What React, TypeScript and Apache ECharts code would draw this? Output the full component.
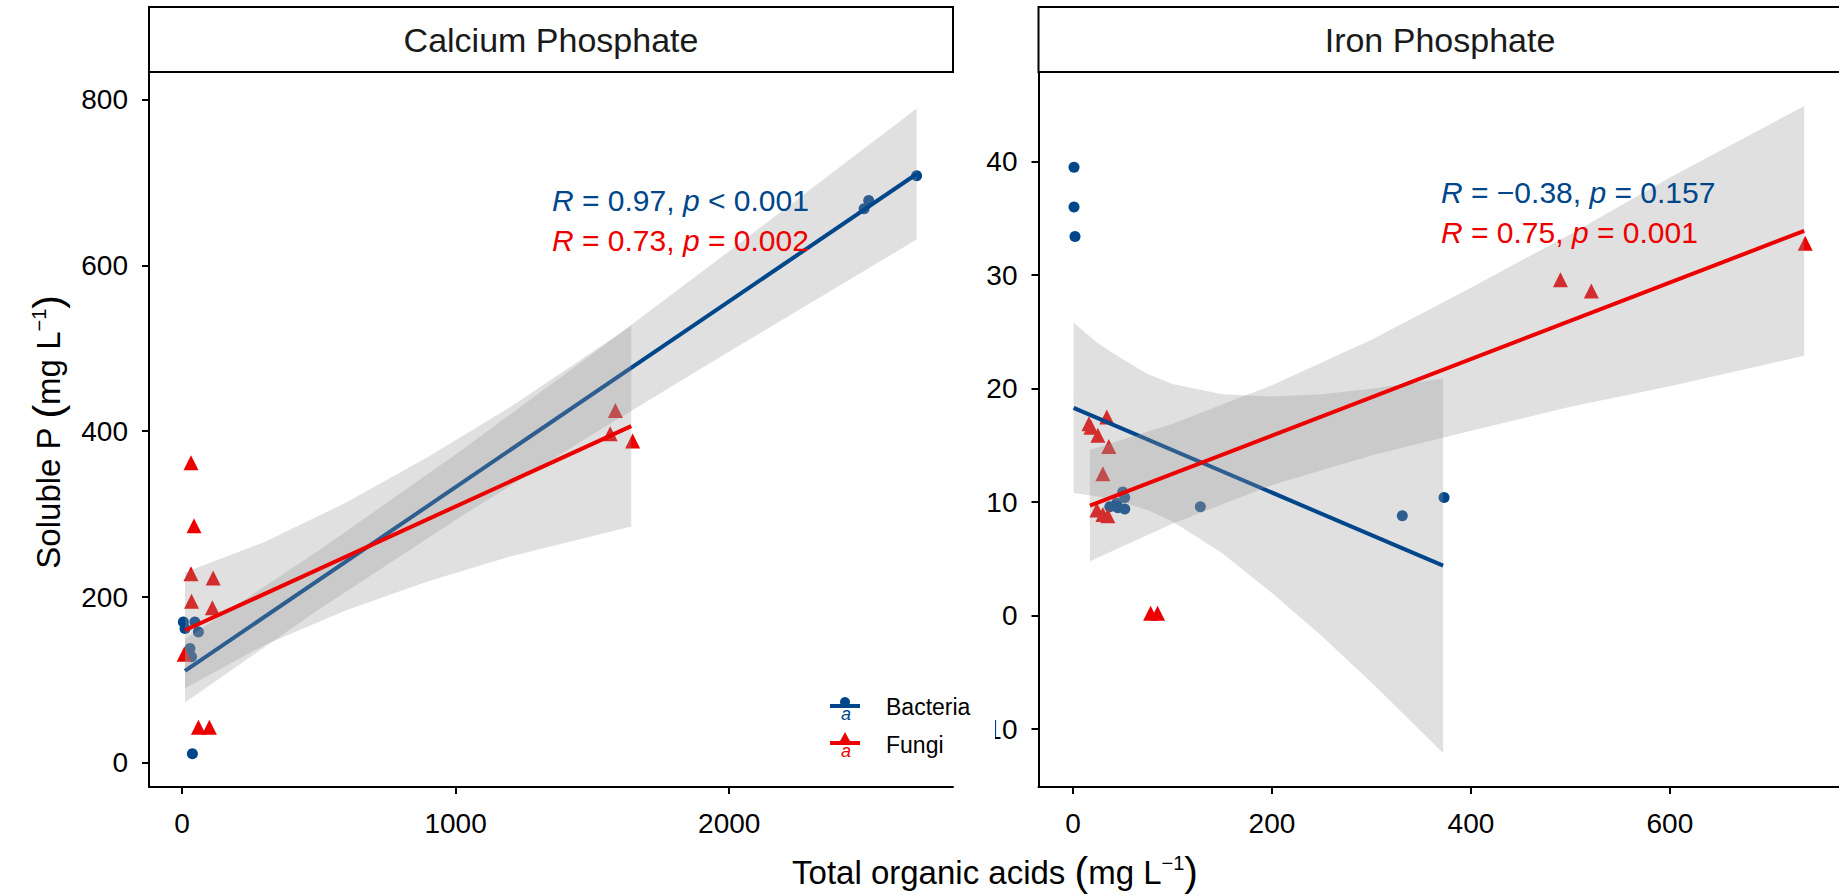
import React, { useEffect, useRef } from "react";
import * as echarts from "echarts";

const BLUE = "#00468B";
const RED = "#ED0000";
const RIBBON = "rgba(153,153,153,0.3)";
const FONT = "'Liberation Sans', Arial, sans-serif";

// ---------- Calcium Phosphate panel ----------
const caBacteriaX = [5, 11, 47, 60, 29, 35, 38, 2493, 2510, 2685];
const caBacteriaY = [170, 162, 170, 158, 138, 128, 11, 668, 678, 708];
const caFungiX = [33, 44, 33, 114, 35, 111, 8, 60, 100, 1584, 1565, 1647];
const caFungiY = [362, 286, 228, 223, 195, 187, 131, 43, 43, 425, 397, 388];

const caBacteriaFitX = [11, 2685];
const caBacteriaFitY = [111, 710];
const caFungiFitX = [11, 1642];
const caFungiFitY = [160, 406];

const caBacteriaBandX = [11, 500, 1000, 1500, 2000, 2685];
const caBacteriaBandLo = [73, 185, 293, 396, 496, 631];
const caBacteriaBandHi = [149, 256, 372, 493, 617, 789];
const caFungiBandX = [11, 300, 600, 900, 1200, 1642];
const caFungiBandLo = [90, 142, 184, 219, 249, 285];
const caFungiBandHi = [230, 266, 314, 369, 429, 527];

const caXTicks = [0, 1000, 2000];
const caYTicks = [0, 200, 400, 600, 800];

// ---------- Iron Phosphate panel ----------
const feBacteriaX = [1, 1, 2, 37, 45, 52, 50, 52, 44, 128, 331, 373];
const feBacteriaY = [39.5, 36.0, 33.4, 9.6, 9.5, 9.4, 10.9, 10.4, 9.9, 9.6, 8.8, 10.4];
const feFungiX = [16, 18, 34, 25, 36, 30, 24, 30, 35, 78, 85, 490, 521, 736];
const feFungiY = [16.9, 16.6, 17.5, 15.9, 14.9, 12.5, 9.3, 8.9, 8.8, 0.2, 0.2, 29.6, 28.6, 32.8];

const feBacteriaFitX = [0.6, 372];
const feBacteriaFitY = [18.3, 4.4];
const feFungiFitX = [17, 735];
const feFungiFitY = [9.7, 33.9];

const feBacteriaBandX = [0.6, 25, 50, 75, 100, 150, 200, 250, 300, 372];
const feBacteriaBandLo = [10.8, 10.5, 10.0, 9.3, 8.3, 5.5, 2.0, -1.8, -5.9, -12.1];
const feBacteriaBandHi = [25.8, 24.0, 22.6, 21.3, 20.4, 19.5, 19.3, 19.5, 20.0, 20.9];
const feFungiBandX = [17, 100, 200, 300, 400, 500, 600, 735];
const feFungiBandLo = [4.8, 8.1, 11.5, 14.1, 16.3, 18.4, 20.2, 22.9];
const feFungiBandHi = [14.6, 16.9, 20.3, 24.3, 28.9, 33.6, 38.6, 44.9];

const feXTicks = [0, 200, 400, 600];
const feYTicks = [-10, 0, 10, 20, 30, 40];

const zip = (xs: number[], ys: number[]) => xs.map((x, i) => [x, ys[i]]);

function band(xs: number[], lo: number[], hi: number[], idx: number, z: number) {
  return {
    type: "custom",
    xAxisIndex: idx,
    yAxisIndex: idx,
    z,
    silent: true,
    data: [[xs[0], lo[0]]],
    renderItem: (_p: any, api: any) => {
      const pts: number[][] = [];
      for (let i = 0; i < xs.length; i++) pts.push(api.coord([xs[i], hi[i]]));
      for (let i = xs.length - 1; i >= 0; i--) pts.push(api.coord([xs[i], lo[i]]));
      return { type: "polygon", shape: { points: pts }, style: { fill: RIBBON } };
    },
  };
}

function fit(xs: number[], ys: number[], idx: number, color: string, z: number) {
  return {
    type: "line",
    xAxisIndex: idx,
    yAxisIndex: idx,
    z,
    silent: true,
    showSymbol: false,
    data: zip(xs, ys),
    lineStyle: { color, width: 4 },
  };
}

function pts(xs: number[], ys: number[], idx: number, color: string, symbol: string, size: number) {
  return {
    type: "scatter",
    xAxisIndex: idx,
    yAxisIndex: idx,
    z: 2,
    symbol,
    symbolSize: size,
    data: zip(xs, ys),
    itemStyle: { color, opacity: 1 },
  };
}

const plain = (v: number) => String(v);

function xAxis(idx: number, min: number, max: number, ticks: number[]) {
  return {
    type: "value",
    gridIndex: idx,
    min,
    max,
    axisLine: { show: true, onZero: false, lineStyle: { color: "#000", width: 2 } },
    axisTick: { show: true, length: 7, customValues: ticks, lineStyle: { color: "#000", width: 2 } },
    axisLabel: { customValues: ticks, formatter: plain, color: "#000", fontSize: 28, fontFamily: FONT, margin: 22 },
    splitLine: { show: false },
  };
}

function yAxis(idx: number, min: number, max: number, ticks: number[]) {
  return {
    type: "value",
    gridIndex: idx,
    min,
    max,
    axisLine: { show: true, onZero: false, lineStyle: { color: "#000", width: 2 } },
    axisTick: { show: true, length: 7, customValues: ticks, lineStyle: { color: "#000", width: 2 } },
    axisLabel: { customValues: ticks, formatter: plain, color: "#000", fontSize: 28, fontFamily: FONT, margin: 21 },
    splitLine: { show: false },
  };
}

function annot(x: number, y: number, text: string, color: string) {
  return {
    type: "text",
    x,
    y,
    z: 50,
    style: {
      text,
      fill: color,
      fontSize: 30,
      fontFamily: FONT,
      verticalAlign: "middle",
      rich: {
        i: { fontStyle: "italic", fill: color, fontSize: 30, fontFamily: FONT },
        n: { fill: color, fontSize: 30, fontFamily: FONT },
      },
    },
  };
}

const titleRich = {
  n: { fontSize: 33, fontFamily: FONT, fill: "#000" },
  p: { fontSize: 41, fontFamily: FONT, fill: "#000" },
  s: { fontSize: 20, fontFamily: FONT, fill: "#000", padding: [0, 0, 18, 0] },
};

export default function App() {
  const ref = useRef<HTMLDivElement>(null);
  useEffect(() => {
    const chart = echarts.init(ref.current!, null, { renderer: "svg" });
    const option: any = {
      animation: false,
      backgroundColor: "#fff",
      grid: [
        { left: 149, top: 72, width: 804, height: 715 },
        { left: 1038.5, top: 72, width: 803, height: 715 },
      ],
      xAxis: [xAxis(0, -120.6, 2818, caXTicks), xAxis(1, -34.7, 770, feXTicks)],
      yAxis: [yAxis(0, -29, 833, caYTicks), yAxis(1, -15.1, 47.9, feYTicks)],
      series: [
        pts(caBacteriaX, caBacteriaY, 0, BLUE, "circle", 11),
        pts(caFungiX, caFungiY, 0, RED, "triangle", 15),
        band(caBacteriaBandX, caBacteriaBandLo, caBacteriaBandHi, 0, 3),
        fit(caBacteriaFitX, caBacteriaFitY, 0, BLUE, 4),
        band(caFungiBandX, caFungiBandLo, caFungiBandHi, 0, 5),
        fit(caFungiFitX, caFungiFitY, 0, RED, 6),
        pts(feBacteriaX, feBacteriaY, 1, BLUE, "circle", 11),
        pts(feFungiX, feFungiY, 1, RED, "triangle", 15),
        band(feBacteriaBandX, feBacteriaBandLo, feBacteriaBandHi, 1, 3),
        fit(feBacteriaFitX, feBacteriaFitY, 1, BLUE, 4),
        band(feFungiBandX, feFungiBandLo, feFungiBandHi, 1, 5),
        fit(feFungiFitX, feFungiFitY, 1, RED, 6),
      ],
      graphic: [
        // strips
        { type: "rect", z: 40, shape: { x: 149, y: 7, width: 804, height: 65 }, style: { fill: "#fff", stroke: "#000", lineWidth: 2 } },
        { type: "text", z: 41, x: 551, y: 40, style: { text: "Calcium Phosphate", fill: "#1a1a1a", fontSize: 34, fontFamily: FONT, align: "center", verticalAlign: "middle" } },
        { type: "rect", z: 40, shape: { x: 1038.5, y: 7, width: 810, height: 65 }, style: { fill: "#fff", stroke: "#000", lineWidth: 2 } },
        { type: "text", z: 41, x: 1440, y: 40, style: { text: "Iron Phosphate", fill: "#1a1a1a", fontSize: 34, fontFamily: FONT, align: "center", verticalAlign: "middle" } },
        // annotations
        annot(552, 200, "{i|R}{n| = 0.97, }{i|p}{n| < 0.001}", BLUE),
        annot(552, 240, "{i|R}{n| = 0.73, }{i|p}{n| = 0.002}", RED),
        annot(1441, 192, "{i|R}{n| = \u22120.38, }{i|p}{n| = 0.157}", BLUE),
        annot(1441, 232, "{i|R}{n| = 0.75, }{i|p}{n| = 0.001}", RED),
        // axis titles
        {
          type: "text",
          z: 41,
          x: 995,
          y: 872,
          style: {
            text: "{n|Total organic acids }{p|(}{n|mg L}{s|\u22121}{p|)}",
            fill: "#000",
            align: "center",
            verticalAlign: "middle",
            rich: titleRich,
          },
        },
        {
          type: "text",
          z: 41,
          x: 48,
          y: 432,
          rotation: Math.PI / 2,
          style: {
            text: "{n|Soluble P }{p|(}{n|mg L}{s|\u22121}{p|)}",
            fill: "#000",
            align: "center",
            verticalAlign: "middle",
            rich: titleRich,
          },
        },
        // legend
        { type: "rect", z: 60, shape: { x: 815, y: 682, width: 180, height: 92 }, style: { fill: "#fff" } },
        { type: "line", z: 61, shape: { x1: 830, y1: 706, x2: 860, y2: 706 }, style: { stroke: BLUE, lineWidth: 4 } },
        { type: "circle", z: 61, shape: { cx: 845, cy: 702, r: 5 }, style: { fill: BLUE } },
        { type: "text", z: 61, x: 846, y: 714, style: { text: "a", fill: BLUE, fontSize: 18, fontStyle: "italic", fontFamily: FONT, align: "center", verticalAlign: "middle" } },
        { type: "text", z: 61, x: 886, y: 707, style: { text: "Bacteria", fill: "#000", fontSize: 23, fontFamily: FONT, verticalAlign: "middle" } },
        { type: "line", z: 61, shape: { x1: 830, y1: 743, x2: 860, y2: 743 }, style: { stroke: RED, lineWidth: 4 } },
        { type: "polygon", z: 61, shape: { points: [[845, 732], [851, 743], [839, 743]] }, style: { fill: RED } },
        { type: "text", z: 61, x: 846, y: 751, style: { text: "a", fill: RED, fontSize: 18, fontStyle: "italic", fontFamily: FONT, align: "center", verticalAlign: "middle" } },
        { type: "text", z: 61, x: 886, y: 745, style: { text: "Fungi", fill: "#000", fontSize: 23, fontFamily: FONT, verticalAlign: "middle" } },
      ],
    };
    chart.setOption(option);
    return () => chart.dispose();
  }, []);
  return (
    <div
      ref={ref}
      style={{ position: "fixed", left: 0, top: 0, width: 1839, height: 895, background: "#fff" }}
    />
  );
}
